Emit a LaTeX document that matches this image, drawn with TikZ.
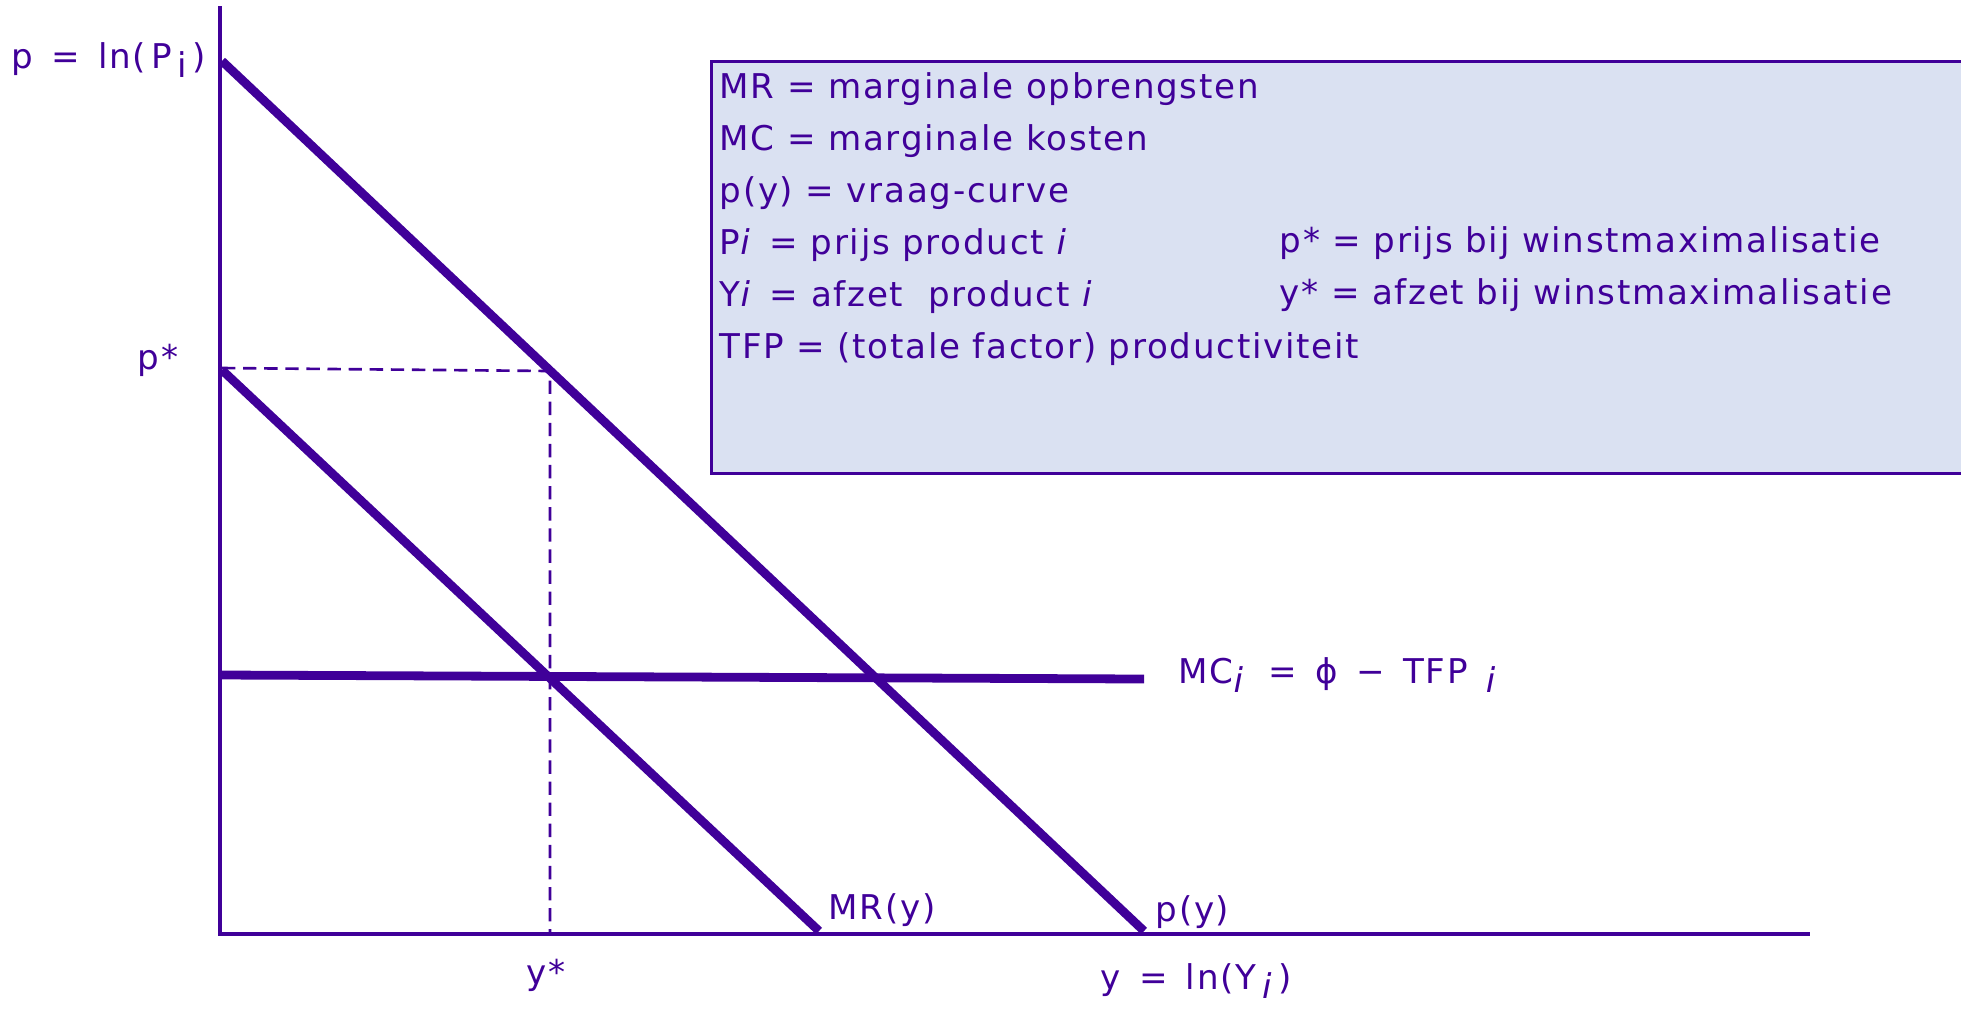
\documentclass[tikz,border=0pt]{standalone}
\usepackage{fontspec}
\setmainfont{DejaVu Sans}[LetterSpace=5]
\setsansfont{DejaVu Sans}[LetterSpace=5]
\usetikzlibrary{positioning}
\definecolor{cpurple}{HTML}{400099}
\definecolor{cpale}{HTML}{DAE1F2}
\tikzset{
  every picture/.style={font=\sffamily\fontsize{9.7}{12}\selectfont},
  every node/.style={text=cpurple},
  axis/.style={draw=cpurple, line width=1pt},
  curve/.style={draw=cpurple, line width=2.5pt},
  guide/.style={draw=cpurple, line width=0.75pt, dash pattern=on 3.8pt off 2.2pt},
  legendbox/.style={draw=cpurple, fill=cpale, line width=0.9pt, anchor=north west, inner sep=0pt,
    minimum width=12.7cm, minimum height=4.12cm},
  legtext/.style={anchor=west, inner sep=0pt},
  lbl/.style={inner sep=0pt},
}
\newcommand{\lowi}[1]{\raisebox{-0.45ex}{#1}}

\begin{document}
\begin{tikzpicture}[x=0.01cm, y=-0.01cm]
  \useasboundingbox (0,0) rectangle (1961,1011);
  % axes
  \coordinate (O) at (220,934);
  \coordinate (ytop) at (220,6);
  \coordinate (xend) at (1810,934);
  \draw[axis] (ytop) -- (O) -- (xend);
  % legend
  \node[legendbox] (legend) at (710,60) {};
  \foreach \txt [count=\k] in {MR = marginale opbrengsten, MC = marginale kosten, p(y) = vraag-curve,
      P\textit{i}\, = prijs product \textit{i}, Y\textit{i}\, = afzet \ product \textit{i},
      TFP = (totale factor) productiviteit} {
    \node[legtext] (leg\k) at (719, 37+52*\k) {\txt};
  }
  \node[legtext] (legp) at (1279,243) {p* = prijs bij winstmaximalisatie};
  \node[legtext] (legy) at (1279,295) {y* = afzet bij winstmaximalisatie};
  % curves
  \coordinate (pd0) at (222,61);
  \coordinate (pd1) at (1144,931);
  \coordinate (mr0) at (222,370);
  \coordinate (mr1) at (819,931);
  \coordinate (mc0) at (222,675);
  \coordinate (mc1) at (1144,679);
  \coordinate (pstar) at (222,368);
  \coordinate (opt) at (550,371);
  \coordinate (ystar) at (550,934);
  \draw[guide] (pstar) -- (opt) -- (ystar);
  \draw[curve] (pd0) -- (pd1);
  \draw[curve] (mr0) -- (mr1);
  \draw[curve] (mc0) -- (mc1);
  % labels
  \node[lbl, anchor=east] (plbl) at (207,60) {p\, =\, ln(\,P\,\lowi{i}\,)};
  \node[lbl] (pstarlbl) at (158,360) {p*};
  \node[lbl] (ystarlbl) at (546,975) {y*};
  \node[lbl, anchor=west] (ylbl) at (1100,981) {y\, =\, ln(Y\,\lowi{\textit{i}}\,)};
  \node[lbl, anchor=west] (mrlbl) at (828,910) {MR(y)};
  \node[lbl, anchor=west] (pylbl) at (1155,912) {p(y)};
  \node[lbl, anchor=west] (mclbl) at (1178,675)
    {MC\lowi{\textit{i}}\, \,=\, ϕ\, −\, TFP\, \lowi{\textit{i}}};
\end{tikzpicture}
\end{document}
